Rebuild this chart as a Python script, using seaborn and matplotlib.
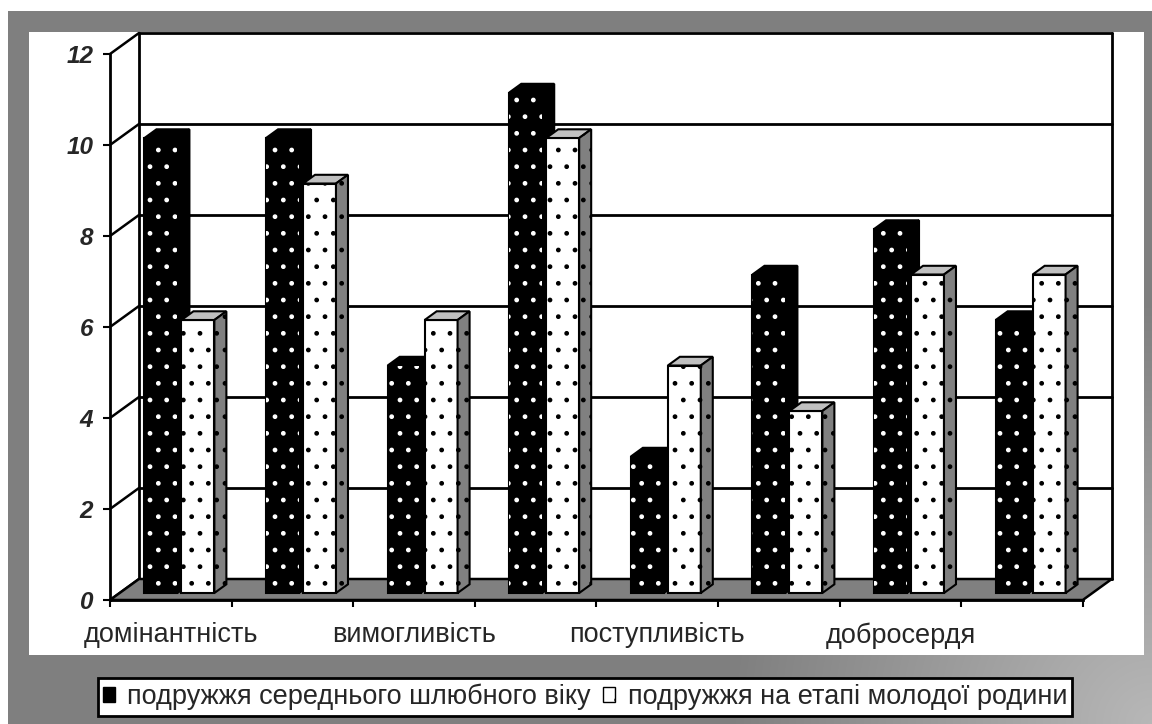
import numpy as np
import pandas as pd
import matplotlib
matplotlib.use("Agg")
import matplotlib.pyplot as plt
import seaborn as sns
from matplotlib.patches import Polygon, Patch, Rectangle

# ---------------- data ----------------
positions = [0, 1, 2, 3, 4, 5, 6, 7]
category_labels = ["домінантність", "", "вимогливість", "", "поступливість", "", "добросердя", ""]
series_names = ["подружжя середнього шлюбного віку", "подружжя на етапі молодої родини"]
middle_age = [10, 10, 5, 11, 3, 7, 8, 6]
young_family = [6, 9, 6, 10, 5, 4, 7, 7]
y_ticks = [0, 2, 4, 6, 8, 10, 12]

# ---------------- style ----------------
sns.set_style("white")
plt.rcParams['font.family'] = ['Liberation Sans', 'DejaVu Sans']
plt.rcParams['hatch.linewidth'] = 1.0

W, H = 1152, 724
fig = plt.figure(figsize=(W / 100, H / 100), dpi=100)

# background: gray frame with light corner, white chart panel
bg = fig.add_axes([0, 0, 1, 1], zorder=-10)
yy, xx = np.mgrid[0:H, 0:W]
d = np.sqrt((W - xx) ** 2 + (H - yy) ** 2)
v = 0.5 + 0.22 * np.clip(1 - d / 420.0, 0, 1)
img = np.dstack([v, v, v])
img[:11, :, :] = 1.0
img[:, :8, :] = 1.0
img[32:655, 29:1144, :] = 1.0
bg.imshow(img, extent=(0, W, H, 0), aspect='auto', interpolation='bilinear')
bg.set_xlim(0, W)
bg.set_ylim(H, 0)
bg.axis('off')

# main axes (front axis at x=110px, back right at 1112px; value 0 at y=600, back 12 at y=33)
PX_X = 121.6
PX_Y = 45.5
DX = 29 / PX_X
DY = 21 / PX_Y
ax = fig.add_axes([110 / W, (H - 600) / H, (1112 - 110) / W, (600 - 33) / H])
ax.patch.set_alpha(0)

df = pd.DataFrame({
    "position": positions * 2,
    "value": middle_age + young_family,
    "series": [series_names[0]] * len(positions) + [series_names[1]] * len(positions),
})
sns.barplot(data=df, x="position", y="value", hue="series", hue_order=series_names,
            palette=["black", "white"], saturation=1, width=0.608, gap=0.109,
            edgecolor="black", linewidth=1.5, legend=False, ax=ax, errorbar=None)

bars = [p for p in ax.patches if isinstance(p, Rectangle)]

# 3-D look: move bars into the depth of the floor and add top and side faces
SHX, SHY = 0.071, 7 / PX_Y
BDX, BDY = 12 / PX_X, 8.7 / PX_Y
for p in bars:
    x0 = p.get_x() + SHX
    w = p.get_width()
    h = p.get_height()
    y0 = SHY
    p.set_x(x0)
    p.set_y(y0)
    is_black = p.get_facecolor()[0] < 0.5
    cat = int(round(x0 + w / 2 - SHX))
    z = 3 + cat * 0.1 + (0.05 if not is_black else 0)
    p.set_zorder(z)
    p.set_edgecolor("black")
    p.set_linewidth(1.5)
    top = Polygon([(x0, y0 + h), (x0 + BDX, y0 + h + BDY), (x0 + w + BDX, y0 + h + BDY), (x0 + w, y0 + h)],
                  closed=True, facecolor="black" if is_black else "#c0c0c0",
                  edgecolor="black", lw=1.5, zorder=z + 0.001, joinstyle="miter")
    side = Polygon([(x0 + w, y0), (x0 + w + BDX, y0 + BDY), (x0 + w + BDX, y0 + h + BDY), (x0 + w, y0 + h)],
                   closed=True, facecolor="black" if is_black else "#808080",
                   edgecolor="black", lw=1.5, zorder=z + 0.002, joinstyle="miter")
    ax.add_patch(top)
    ax.add_patch(side)
    dots = Rectangle((x0, y0), w, h, fill=False, edgecolor="white" if is_black else "black",
                     lw=0, hatch=".", zorder=z + 0.003)
    ax.add_patch(dots)
    if not is_black:
        sdots = Polygon(side.get_xy(), closed=True, fill=False, edgecolor="black", lw=0,
                        hatch=".", zorder=z + 0.004)
        ax.add_patch(sdots)

# floor
floor = Polygon([(-0.5, 0), (7.5, 0), (7.5 + DX, DY), (-0.5 + DX, DY)], closed=True,
                facecolor="#808080", edgecolor="black", lw=1.8, zorder=1, clip_on=False)
ax.add_patch(floor)

# back wall grid and side wall lines
for t in y_ticks:
    ax.plot([-0.5 + DX, 7.5 + DX], [t + DY, t + DY], color="black", lw=2, zorder=0.5, clip_on=False)
    ax.plot([-0.5, -0.5 + DX], [t, t + DY], color="black", lw=1.8, zorder=0.5, clip_on=False)
ax.plot([-0.5 + DX] * 2, [DY, 12 + DY], color="black", lw=2, zorder=0.5, clip_on=False)
ax.plot([7.5 + DX] * 2, [DY, 12 + DY], color="black", lw=2, zorder=0.5, clip_on=False)

# limits (after seaborn, which resets the categorical axis)
ax.set_xlim(-0.5, -0.5 + 1002 / PX_X)
ax.set_ylim(0, 567 / PX_Y)

# axes spines / ticks
for s in ["top", "right"]:
    ax.spines[s].set_visible(False)
ax.spines["left"].set_bounds(0, 12)
ax.spines["bottom"].set_bounds(-0.5, 7.5)
ax.spines["left"].set_linewidth(2)
ax.spines["bottom"].set_linewidth(2)
ax.spines["left"].set_color("black")
ax.spines["bottom"].set_color("black")

ax.set_yticks(y_ticks)
ax.set_yticklabels([str(t) for t in y_ticks], fontsize=17.5, fontweight="bold", fontstyle="italic")
ax.tick_params(axis="y", which="major", direction="out", length=5, width=1.5, pad=7,
               left=True, color="black")
ax.set_xticks([p - 0.5 for p in positions] + [positions[-1] + 0.5])
ax.set_xticklabels([])
ax.set_xticks(positions, minor=True)
ax.set_xticklabels(category_labels, minor=True, fontsize=19.5)
ax.tick_params(axis="x", which="major", direction="out", length=5, width=1.5, bottom=True, color="black")
ax.tick_params(axis="x", which="minor", length=0, pad=16)
ax.set_xlabel("")
ax.set_ylabel("")

# legend
handles = [Patch(facecolor="black", edgecolor="black", hatch="."),
           Patch(facecolor="white", edgecolor="black", hatch=".")]
leg = fig.legend(handles=handles, labels=series_names, loc="center",
                 bbox_to_anchor=(585 / W, 1 - 697 / H), ncol=2, frameon=True, fancybox=False,
                 edgecolor="black", framealpha=1, fontsize=19.5, handlelength=0.45, handleheight=0.5,
                 handletextpad=0.45, columnspacing=0.45, borderpad=0.2, borderaxespad=0)
leg.get_frame().set_linewidth(2)

fig.savefig("out.png", dpi=100)
